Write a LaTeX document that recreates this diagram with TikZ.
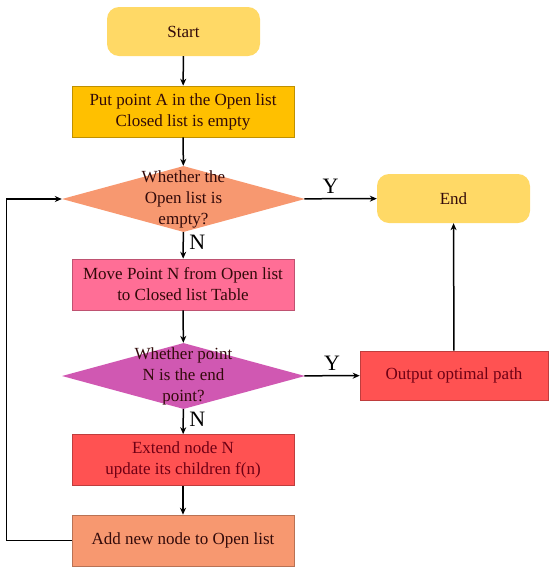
\documentclass[tikz,border=0pt]{standalone}
\usepackage{fontspec}
\setmainfont{Liberation Serif}
\usetikzlibrary{arrows.meta,shapes.geometric,positioning}
\definecolor{startyel}{RGB}{255,217,102}
\definecolor{amber}{RGB}{255,192,0}
\definecolor{salmon}{RGB}{247,152,112}
\definecolor{rosepink}{RGB}{255,110,150}
\definecolor{orchid}{RGB}{208,88,178}
\definecolor{redbox}{RGB}{255,82,82}
\definecolor{txtdark}{RGB}{50,10,10}
\definecolor{txtred}{RGB}{110,0,20}
\begin{document}
\begin{tikzpicture}[x=1pt,y=-1pt,
    every node/.style={font=\fontsize{17}{21}\selectfont, text=txtdark, align=center},
    terminal/.style={rounded corners=12pt, fill=startyel, minimum width=153pt, minimum height=49pt},
    process/.style={draw=#1!75!black, line width=0.6pt, fill=#1, minimum width=222pt, minimum height=51pt},
    decision/.style={diamond, fill=#1, inner sep=0pt, minimum width=243pt, minimum height=66pt},
    yn/.style={font=\fontsize{22}{24}\selectfont, text=black},
    flow/.style={line width=1.5pt, -{Stealth[length=7pt,width=6pt]}}]
\useasboundingbox (0,0) rectangle (550,574);
% main column
\node[terminal] (start) at (183.5,31.5) {Start};
\node[process=amber] (init) at (183,111.5) {Put point A in the Open list\\Closed list is empty};
\node[decision=salmon] (empty) at (183.5,199) {};
\node at (empty) {Whether the\\Open list is\\empty?};
\node[process=rosepink] (move) at (183,284.5) {Move Point N from Open list\\to Closed list Table};
\node[decision=orchid] (isend) at (183.5,376) {};
\node at (isend) {Whether point\\N is the end\\point?};
\node[process=redbox, text=txtred] (extend) at (183,460) {Extend node N\\update its children f(n)};
\node[process=salmon] (add) at (183,540.5) {Add new node to Open list};
% right column
\node[terminal] (end) at (453.5,198.5) {End};
\node[process=redbox, text=txtred, minimum width=188pt, minimum height=49pt] (output) at (454,375.5) {Output optimal path};
% connectors
\draw[flow] (start) -- (init);
\draw[flow] (init) -- (empty);
\draw[flow] (empty) -- (move) node[yn, pos=0.4, right=2pt] (n1) {N};
\draw[flow] (empty) -- (end) node[yn, pos=0.36, above=1pt] (y1) {Y};
\draw[flow] (move) -- (isend);
\draw[flow] (isend) -- (output) node[yn, midway, above=1pt] (y2) {Y};
\draw[flow] (isend) -- (extend) node[yn, pos=0.4, right=2pt] (n2) {N};
\draw[flow] (extend) -- (add);
\draw[flow] (output) -- (end);
\draw[flow] (add.west) -- ++(-65,0) |- (empty.west);
\end{tikzpicture}
\end{document}
